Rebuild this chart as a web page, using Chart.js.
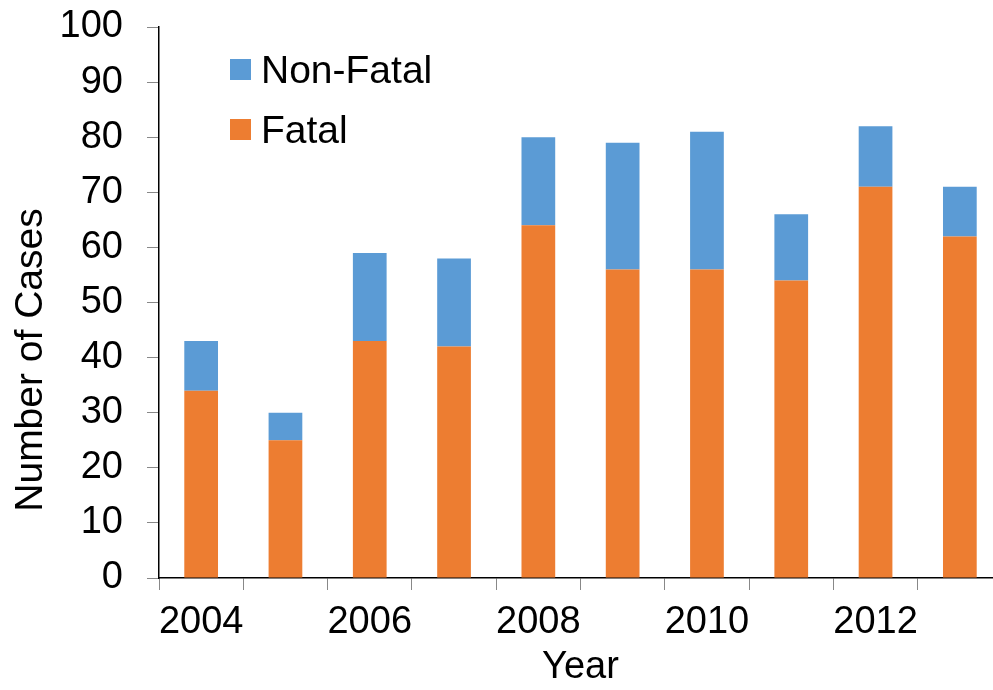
<!DOCTYPE html>
<html>
<head>
<meta charset="utf-8">
<script src="https://cdn.jsdelivr.net/npm/chart.js@4/dist/chart.umd.min.js"></script>
<style>
  html, body { margin: 0; padding: 0; overflow: hidden; background: #fff; }
  #wrap { width: 1002px; height: 690px; }
</style>
</head>
<body>
<div id="wrap"><canvas id="casesChart"></canvas></div>
<script>
// data
var years = ['2004', '2005', '2006', '2007', '2008', '2009', '2010', '2011', '2012', '2013'];
var fatal = [34, 25, 43, 42, 64, 56, 56, 54, 71, 62];
var nonFatal = [9, 5, 16, 16, 16, 23, 25, 12, 11, 9];
var yTicks = [0, 10, 20, 30, 40, 50, 60, 70, 80, 90, 100];
var yTitle = 'Number of Cases';

var FONT = "'Liberation Sans', Arial, sans-serif";

// legend inside the plot (Non-Fatal above Fatal) and the y title,
// which sits a bit lower than the axis middle in the original
var extras = {
  id: 'extras',
  afterDraw: function(chart) {
    var ctx = chart.ctx;
    var items = chart.data.datasets.slice().reverse();
    ctx.save();
    ctx.font = '39px ' + FONT;
    ctx.textBaseline = 'alphabetic';
    for (var i = 0; i < items.length; i++) {
      var y = 59 + i * 60;
      ctx.fillStyle = items[i].backgroundColor;
      ctx.fillRect(230, y, 21, 21);
      ctx.fillStyle = '#000';
      ctx.fillText(items[i].label, 261, y + 24);
    }
    ctx.translate(31, 360);
    ctx.rotate(-Math.PI / 2);
    ctx.textAlign = 'center';
    ctx.textBaseline = 'middle';
    ctx.fillStyle = '#000';
    ctx.fillText(yTitle, 0, 0);
    ctx.restore();
  }
};

var ctx = document.getElementById('casesChart');
var casesChart = new Chart(ctx, {
  type: 'bar',
  data: {
    labels: years,
    datasets: [{
      label: 'Fatal',
      data: fatal,
      backgroundColor: '#ED7D31',
      categoryPercentage: 1,
      barPercentage: 0.4
    }, {
      label: 'Non-Fatal',
      data: nonFatal,
      backgroundColor: '#5B9BD5',
      categoryPercentage: 1,
      barPercentage: 0.4
    }]
  },
  plugins: [extras],
  options: {
    responsive: true,
    maintainAspectRatio: false,
    animation: false,
    layout: { padding: { top: 27, right: 0, left: 0, bottom: 0 } },
    plugins: {
      legend: { display: false },
      tooltip: { enabled: false }
    },
    scales: {
      x: {
        stacked: true,
        afterFit: function(scale) {
          scale.height = 112;
          scale.paddingLeft = 0;
          scale.paddingRight = 0;
        },
        grid: {
          offset: true,
          drawOnChartArea: false,
          tickLength: 12,
          color: '#888'
        },
        border: { color: '#000', width: 1.5 },
        ticks: {
          autoSkip: false,
          maxRotation: 0,
          padding: 10,
          color: '#000',
          font: { family: FONT, size: 38 },
          callback: function(v, i) { return i % 2 === 0 ? years[i] : ''; }
        },
        title: {
          display: true,
          text: 'Year',
          color: '#000',
          font: { family: FONT, size: 38 },
          padding: { top: 0, bottom: 0 }
        }
      },
      y: {
        stacked: true,
        min: 0,
        max: 100,
        afterFit: function(scale) {
          scale.width = 159;
          scale.paddingTop = 0;
          scale.paddingBottom = 0;
        },
        afterBuildTicks: function(scale) {
          scale.ticks = yTicks.map(function(v) { return { value: v }; });
        },
        grid: {
          drawOnChartArea: false,
          tickLength: 12,
          color: '#888'
        },
        border: { color: '#000', width: 1.5 },
        ticks: {
          padding: 24,
          color: '#000',
          font: { family: FONT, size: 38 }
        },
        title: { display: false }
      }
    }
  }
});
</script>
</body>
</html>
